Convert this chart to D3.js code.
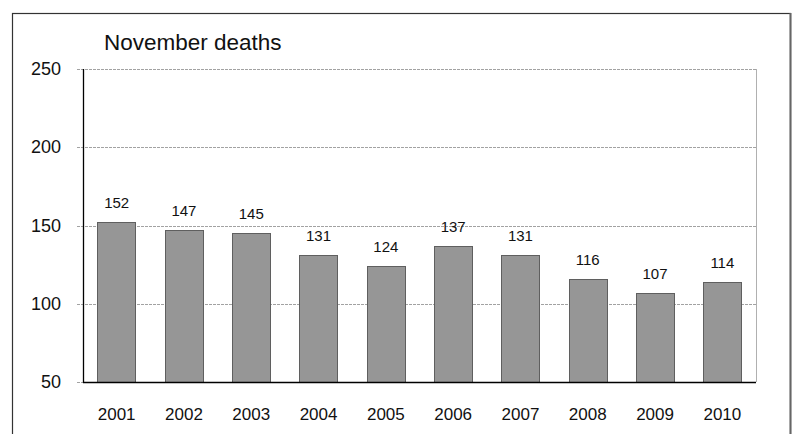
<!DOCTYPE html>
<html>
<head>
<meta charset="utf-8">
<script src="https://cdn.jsdelivr.net/npm/d3@7"></script>
<style>
  html, body { margin: 0; padding: 0; background: #fff; }
  svg { display: block; font-family: "Liberation Sans", Arial, sans-serif; }
</style>
</head>
<body>
<svg id="chart" width="793" height="434"></svg>
<script>
// November deaths by year
const years = ["2001", "2002", "2003", "2004", "2005", "2006", "2007", "2008", "2009", "2010"];
const deaths = [152, 147, 145, 131, 124, 137, 131, 116, 107, 114];
const yTicks = [50, 100, 150, 200, 250];
const title = "November deaths";

const svg = d3.select("#chart");
const W = 793, H = 434;
const plot = { left: 83, right: 756, top: 69, bottom: 382 };

// outer frame (bottom edge runs past the canvas)
svg.append("rect")
  .attr("x", 12.5).attr("y", 13.5)
  .attr("width", 778).attr("height", 440)
  .attr("fill", "none").attr("stroke", "#333").attr("stroke-width", 1.2);
svg.append("line")
  .attr("x1", 790.5).attr("x2", 790.5).attr("y1", 13).attr("y2", H)
  .attr("stroke", "#666").attr("stroke-width", 2);

const x = d3.scaleBand()
  .domain(years)
  .range([plot.left, plot.right])
  .paddingInner(0.43)
  .paddingOuter(0.215);

const y = d3.scaleLinear()
  .domain([50, 250])
  .range([plot.bottom, plot.top]);

// horizontal gridlines
svg.append("g")
  .selectAll("line")
  .data(yTicks)
  .join("line")
  .attr("x1", plot.left - 6)
  .attr("x2", plot.right)
  .attr("y1", d => Math.round(y(d)) + 0.5)
  .attr("y2", d => Math.round(y(d)) + 0.5)
  .attr("stroke", "#8a8a8a")
  .attr("stroke-width", 0.8)
  .attr("stroke-dasharray", "3,1");

// right edge of plot area
svg.append("line")
  .attr("x1", plot.right + 0.5).attr("x2", plot.right + 0.5)
  .attr("y1", plot.top).attr("y2", plot.bottom)
  .attr("stroke", "#b0b0b0").attr("stroke-width", 1);

// bars
svg.append("g")
  .selectAll("rect")
  .data(deaths)
  .join("rect")
  .attr("x", (d, i) => Math.round(x(years[i])) + 0.5)
  .attr("y", d => Math.round(y(d)) + 0.5)
  .attr("width", Math.round(x.bandwidth()))
  .attr("height", d => Math.round(y(50)) - Math.round(y(d)))
  .attr("fill", "#969696")
  .attr("stroke", "#5f5f5f")
  .attr("stroke-width", 1);

// value labels
svg.append("g")
  .selectAll("text")
  .data(deaths)
  .join("text")
  .attr("x", (d, i) => x(years[i]) + x.bandwidth() / 2)
  .attr("y", d => y(d) - 14)
  .attr("text-anchor", "middle")
  .attr("font-size", 15)
  .attr("fill", "#111")
  .text(d => d);

// axes lines
svg.append("line")
  .attr("x1", plot.left + 0.5).attr("x2", plot.left + 0.5)
  .attr("y1", plot.top).attr("y2", plot.bottom + 1)
  .attr("stroke", "#000").attr("stroke-width", 1.3);
svg.append("line")
  .attr("x1", plot.left).attr("x2", plot.right)
  .attr("y1", plot.bottom + 0.5).attr("y2", plot.bottom + 0.5)
  .attr("stroke", "#000").attr("stroke-width", 1.3);

// y tick labels
svg.append("g")
  .selectAll("text")
  .data(yTicks)
  .join("text")
  .attr("x", 61)
  .attr("y", d => y(d) + 6)
  .attr("text-anchor", "end")
  .attr("font-size", 18)
  .attr("fill", "#111")
  .text(d => d);

// x tick labels
svg.append("g")
  .selectAll("text")
  .data(years)
  .join("text")
  .attr("x", d => x(d) + x.bandwidth() / 2)
  .attr("y", 420)
  .attr("text-anchor", "middle")
  .attr("font-size", 17)
  .attr("fill", "#111")
  .text(d => d);

// title
svg.append("text")
  .attr("x", 104)
  .attr("y", 50)
  .attr("font-size", 22.5)
  .attr("fill", "#111")
  .text(title);
</script>
</body>
</html>
